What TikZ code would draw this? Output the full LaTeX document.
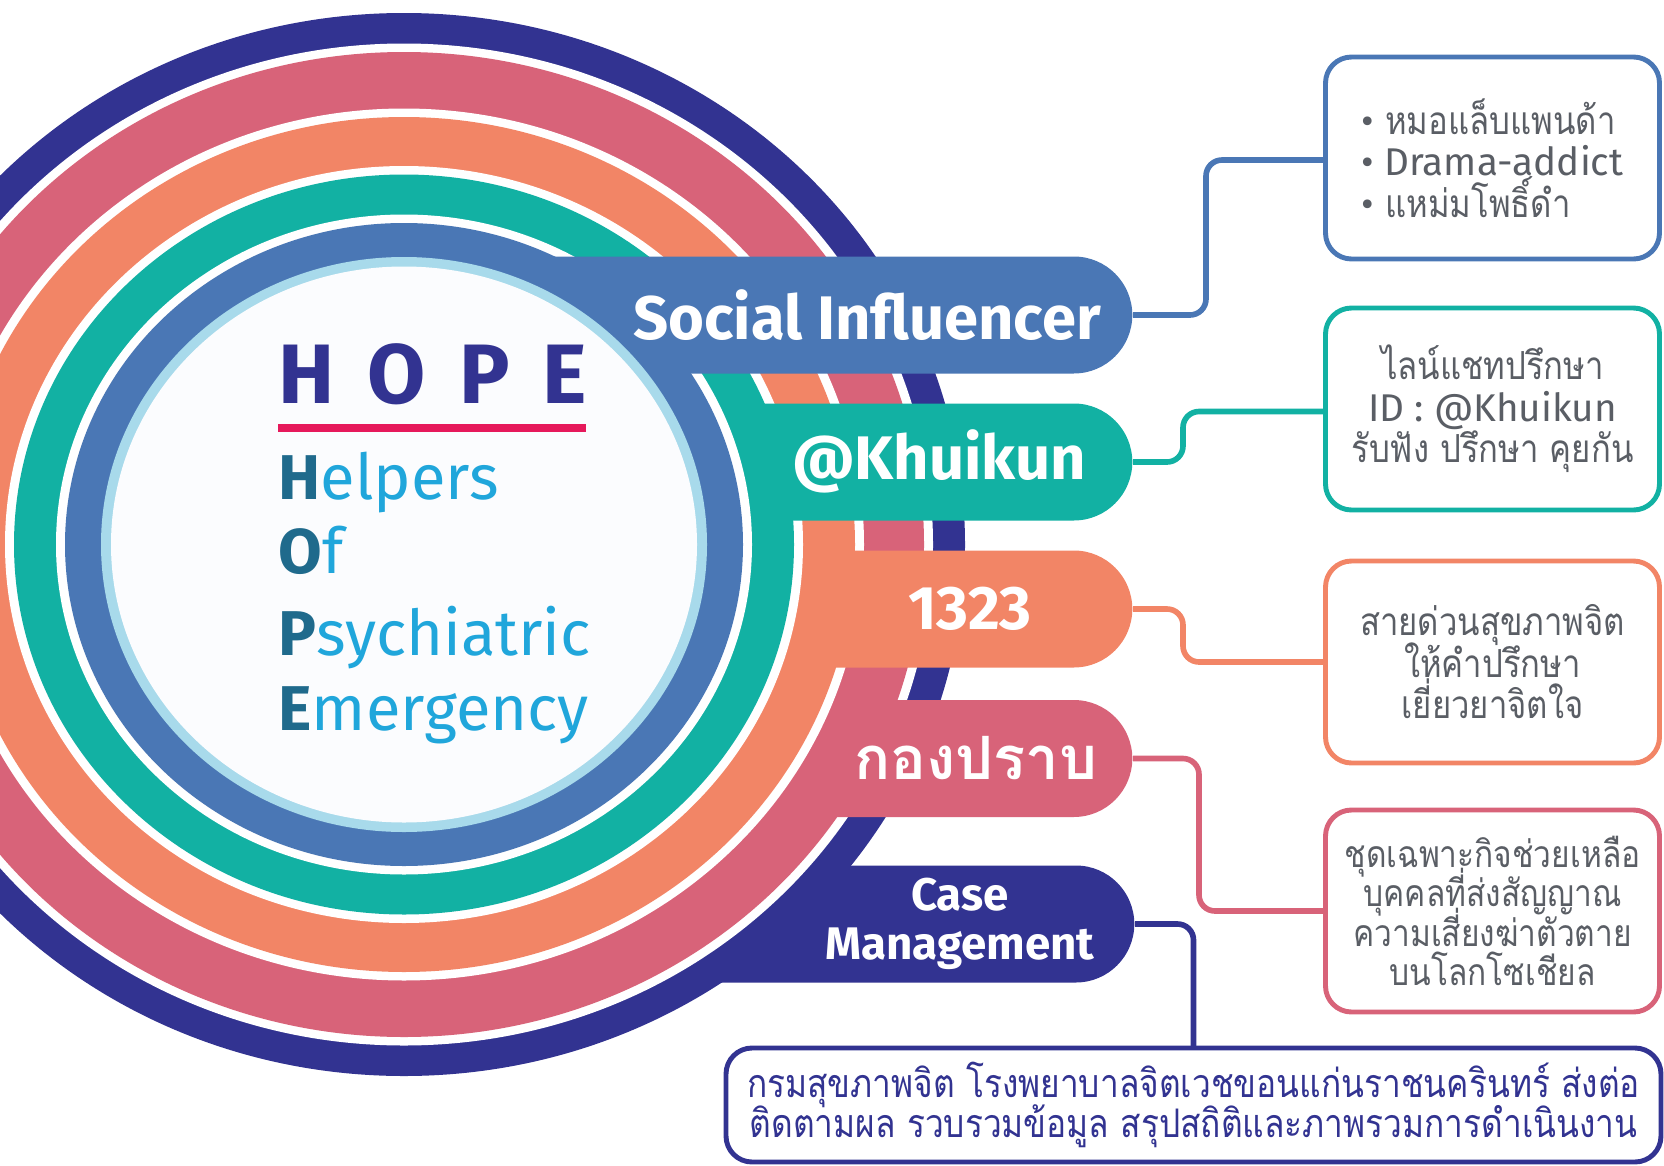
\documentclass[tikz,border=0pt]{standalone}
\usepackage{fontspec}
\setmainfont{Fira Sans}
\newfontfamily\thaifont[Script=Thai,FakeStretch=0.85]{Loma}
\newfontfamily\thaitab[Script=Thai]{Loma}
\newcommand\tightlines{\lineskiplimit=-\maxdimen}
\usetikzlibrary{shapes.misc}

\definecolor{hnavy}{HTML}{323391}
\definecolor{hpink}{HTML}{D86379}
\definecolor{horange}{HTML}{F28566}
\definecolor{hteal}{HTML}{12B1A3}
\definecolor{hblue}{HTML}{4A77B5}
\definecolor{hsky}{HTML}{A8DAEB}
\definecolor{hcore}{HTML}{FBFCFE}
\definecolor{hred}{HTML}{E6195B}
\definecolor{hdeep}{HTML}{1F6A8C}
\definecolor{hlight}{HTML}{20A6DB}
\definecolor{hgrey}{HTML}{5A5E65}

\tikzset{
  tabshape/.style={rounded rectangle,rounded rectangle left arc=none,minimum height=11.7mm,inner sep=0pt,anchor=east},
  tablabel/.style={text=white,font=\bfseries\fontsize{17.5}{20}\selectfont},
  infobox/.style={rectangle,draw,rounded corners=2.6mm,fill=white,line width=1.4pt,minimum width=33.4mm,minimum height=20.2mm,inner xsep=2pt,align=center,text=hgrey,font=\thaifont\fontsize{11}{11.8}\selectfont\tightlines},
  linkline/.style={line width=1.6pt,rounded corners=1.6mm},
  hopeword/.style={anchor=base west,inner sep=0pt,text=hlight,font=\fontsize{18}{20}\selectfont}
}

\begin{document}
\begin{tikzpicture}[x=0.1mm,y=-0.1mm]
% pixel grid: x to the right, y downwards
\useasboundingbox (0,0) rectangle (1664,1165);
\coordinate (C) at (404,544.5);
% rings from the outside in, each tab laid on its own ring
\fill[hnavy] (C) ellipse [x radius=561,y radius=531.5];
\node[tabshape,fill=hnavy,minimum width=63.5mm] (casetab) at (1135,924) {};
\fill[white] (C) ellipse [x radius=529,y radius=501];
\fill[hpink] (C) ellipse [x radius=520,y radius=492.5];
\node[tabshape,fill=hpink,minimum width=63.3mm] (squadtab) at (1133,758.5) {};
\fill[white] (C) ellipse [x radius=460,y radius=436];
\fill[horange] (C) ellipse [x radius=451,y radius=427.5];
\node[tabshape,fill=horange,minimum width=63.3mm] (hottab) at (1133,609) {};
\fill[white] (C) ellipse [x radius=399,y radius=378.5];
\fill[hteal] (C) ellipse [x radius=390,y radius=370];
\node[tabshape,fill=hteal,minimum width=63.3mm] (khuikuntab) at (1133,462) {};
\fill[white] (C) ellipse [x radius=348,y radius=330];
\fill[hblue] (C) ellipse [x radius=339,y radius=321.5];
\node[tabshape,fill=hblue,minimum width=68.3mm] (socialtab) at (1133,315) {};
\fill[hsky] (C) ellipse [x radius=303,y radius=287.5];
\fill[hcore] (C) ellipse [x radius=293,y radius=278];

% title in the disc
\node[anchor=base west,inner sep=0pt,text=hnavy,font=\bfseries\fontsize{24}{26}\selectfont] (hope) at (278,403) {H\hspace{3.3mm}O\hspace{3.3mm}P\hspace{3.3mm}E};
\fill[hred] (278,424) rectangle (586,432);
\node[hopeword] (helpers) at (278,499) {{\bfseries\color{hdeep}H}elpers};
\node[hopeword] (of) at (278,573) {{\bfseries\color{hdeep}O}f};
\node[hopeword] (psych) at (278,655) {{\bfseries\color{hdeep}P}sychiatric};
\node[hopeword] (emerg) at (278,730) {{\bfseries\color{hdeep}E}mergency};

% tab labels
\node[tablabel] (social) at (867,315) {Social Influencer};
\node[tablabel] (khuikun) at (939,461) {@Khuikun};
\node[tablabel] (hotline) at (970,609) {1323};
\node[tablabel,font=\thaitab\bfseries\fontsize{17}{20}\selectfont] (squad) at (976,758) {กองปราบ};
\node[tablabel,align=center,font=\bfseries\fontsize{13}{14}\selectfont] (case) at (960,924) {Case\\Management};

% connectors
\draw[linkline,hblue] (socialtab.east) -- ++(73,0) |- (1323,160);
\draw[linkline,hteal] (khuikuntab.east) -- ++(50,0) |- (1323,411.5);
\draw[linkline,horange] (hottab.east) -- ++(50,0) |- (1323,662);
\draw[linkline,hpink] (squadtab.east) -- ++(66,0) |- (1323,911);
\draw[linkline,hnavy] (casetab.east) -| (1193.5,1048);

% boxes
\node[infobox,draw=hblue,align=left] (influbox) at (1492.5,158) {{\normalfont •} หมอแล็บแพนด้า\\{\normalfont • Drama-addict}\\{\normalfont •} แหม่มโพธิ์ดำ};
\node[infobox,draw=hteal] (linebox) at (1492.5,409) {ไลน์แชทปรึกษา\\{\normalfont ID : @Khuikun}\\รับฟัง ปรึกษา คุยกัน};
\node[infobox,draw=horange] (hotbox) at (1492.5,662) {สายด่วนสุขภาพจิต\\ให้คำปรึกษา\\เยี่ยวยาจิตใจ};
\node[infobox,draw=hpink,font=\thaifont\fontsize{10.6}{11.2}\selectfont\tightlines] (squadbox) at (1492.5,911) {ชุดเฉพาะกิจช่วยเหลือ\\บุคคลที่ส่งสัญญาณ\\ความเสี่ยงฆ่าตัวตาย\\บนโลกโซเชียล};
\node[infobox,draw=hnavy,text=hnavy,minimum width=93.5mm,minimum height=11.4mm,font=\thaifont\fontsize{11.2}{11.4}\selectfont\tightlines] (casebox) at (1193.5,1105) {กรมสุขภาพจิต โรงพยาบาลจิตเวชขอนแก่นราชนครินทร์ ส่งต่อ\\ติดตามผล รวบรวมข้อมูล สรุปสถิติและภาพรวมการดำเนินงาน};
\end{tikzpicture}
\end{document}
